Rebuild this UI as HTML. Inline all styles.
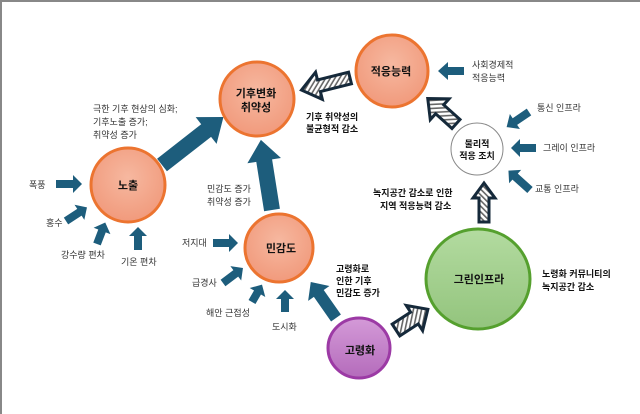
<!DOCTYPE html>
<html><head><meta charset="utf-8"><style>
html,body{margin:0;padding:0;background:#fff;}
svg{display:block;}
text{font-family:"Liberation Sans","Noto Sans CJK KR",sans-serif;font-size:9px;fill:#333;}
.b{font-weight:bold;fill:#111;}
.c{font-weight:bold;font-size:11px;fill:#111;text-anchor:middle;}
</style></head><body>
<svg width="640" height="414" viewBox="0 0 640 414">
<defs>
<pattern id="h" width="4" height="4" patternUnits="userSpaceOnUse" patternTransform="rotate(45)">
<rect width="4" height="4" fill="#fff"/><rect width="1.6" height="4" fill="#666"/></pattern>
<radialGradient id="og" cx="50%" cy="40%" r="60%"><stop offset="0" stop-color="#f6b8a0"/><stop offset="1" stop-color="#f19a7c"/></radialGradient>
<linearGradient id="gg" x1="0" y1="0" x2="0" y2="1"><stop offset="0" stop-color="#b3dba0"/><stop offset="1" stop-color="#93c47d"/></linearGradient>
<linearGradient id="pg" x1="0" y1="0" x2="0" y2="1"><stop offset="0" stop-color="#d49ad8"/><stop offset="1" stop-color="#b46bbb"/></linearGradient>
</defs>
<rect x="0" y="0" width="640" height="414" fill="#fff"/>
<line x1="0" y1="1" x2="640" y2="1" stroke="#888" stroke-width="2"/>
<line x1="1" y1="0" x2="1" y2="414" stroke="#888" stroke-width="2"/>

<g fill="#1d5d7c">
<polygon transform="translate(162,165) rotate(-38)" points="0,-8 56,-8 56,-17 78,0 56,17 56,8 0,8"/>
<polygon transform="translate(272,210) rotate(-99)" points="0,-8 50,-8 50,-17 71,0 50,17 50,8 0,8"/>
<polygon transform="translate(336,318) rotate(-125)" points="0,-6 30,-6 30,-13 44,0 30,13 30,6 0,6"/>
<polygon transform="translate(464,71) rotate(180)" points="0,-4 16,-4 16,-9 26,0 16,9 16,4 0,4"/>
<polygon transform="translate(529,112) rotate(146)" points="0,-4 17,-4 17,-9 27,0 17,9 17,4 0,4"/>
<polygon transform="translate(536,148) rotate(180)" points="0,-4 16,-4 16,-9 25,0 16,9 16,4 0,4"/>
<polygon transform="translate(530,190) rotate(-138)" points="0,-4 20,-4 20,-9 29,0 20,9 20,4 0,4"/>
<polygon transform="translate(56,184) rotate(0)" points="0,-4 17,-4 17,-9 26,0 17,9 17,4 0,4"/>
<polygon transform="translate(66,221) rotate(-33)" points="0,-4 16,-4 16,-9 25,0 16,9 16,4 0,4"/>
<polygon transform="translate(97,244) rotate(-69)" points="0,-4 14,-4 14,-9 23,0 14,9 14,4 0,4"/>
<polygon transform="translate(138,250) rotate(-90)" points="0,-4 14,-4 14,-9 23,0 14,9 14,4 0,4"/>
<polygon transform="translate(213,243) rotate(0)" points="0,-4 16,-4 16,-9 25,0 16,9 16,4 0,4"/>
<polygon transform="translate(223,283) rotate(-37)" points="0,-4 16,-4 16,-9 25,0 16,9 16,4 0,4"/>
<polygon transform="translate(252,302) rotate(-60)" points="0,-4 11,-4 11,-9 20,0 11,9 11,4 0,4"/>
<polygon transform="translate(285,312) rotate(-90)" points="0,-4 13,-4 13,-9 22,0 13,9 13,4 0,4"/>
</g>

<g fill="url(#h)" stroke="#15293a" stroke-width="3" stroke-linejoin="miter">
<polygon transform="translate(350,78) rotate(166)" points="0,-6 32,-6 32,-14 50,0 32,14 32,6 0,6"/>
<polygon transform="translate(456,124) rotate(-138)" points="0,-6 22,-6 22,-14 38,0 22,14 22,6 0,6"/>
<polygon transform="translate(484,222) rotate(-90)" points="0,-5 24,-5 24,-11 39,0 24,11 24,5 0,5"/>
<polygon transform="translate(396,330) rotate(-33)" points="0,-7 22,-7 22,-15 38,0 22,15 22,7 0,7"/>
</g>

<circle cx="257" cy="99" r="37" fill="url(#og)" stroke="#ec7430" stroke-width="3"/>
<circle cx="392" cy="71" r="36" fill="url(#og)" stroke="#ec7430" stroke-width="3"/>
<circle cx="128" cy="185" r="37" fill="url(#og)" stroke="#ec7430" stroke-width="3"/>
<circle cx="279" cy="248" r="34" fill="url(#og)" stroke="#ec7430" stroke-width="3"/>
<circle cx="477" cy="149" r="26" fill="#fff" stroke="#888" stroke-width="1"/>
<ellipse cx="478" cy="279" rx="52" ry="50" fill="url(#gg)" stroke="#55a02e" stroke-width="3"/>
<ellipse cx="359" cy="348" rx="31" ry="30" fill="url(#pg)" stroke="#9c3aa5" stroke-width="3"/>

<text class="c" x="256" y="97">기후변화</text>
<text class="c" x="256" y="111">취약성</text>
<text class="c" x="391" y="75">적응능력</text>
<text class="c" x="128" y="189">노출</text>
<text class="c" x="281" y="252">민감도</text>
<text class="c" x="477" y="147" style="font-size:9px">물리적</text>
<text class="c" x="477" y="159" style="font-size:9px">적응 조치</text>
<text class="c" x="479" y="283">그린인프라</text>
<text class="c" x="360" y="354">고령화</text>

<text x="93" y="112">극한 기후 현상의 심화;</text>
<text x="93" y="125">기후노출 증가;</text>
<text x="93" y="138">취약성 증가</text>
<text class="b" x="306" y="120">기후 취약성의</text>
<text class="b" x="306" y="132">불균형적 감소</text>
<text x="472" y="68">사회경제적</text>
<text x="472" y="81">적응능력</text>
<text x="537" y="111">통신 인프라</text>
<text x="543" y="151">그레이 인프라</text>
<text x="535" y="192">교통 인프라</text>
<text class="b" x="373" y="196">녹지공간 감소로 인한</text>
<text class="b" x="380" y="209">지역 적응능력 감소</text>
<text x="207" y="192">민감도 증가</text>
<text x="207" y="205">취약성 증가</text>
<text x="29" y="188">폭풍</text>
<text x="46" y="226">홍수</text>
<text x="61" y="258">강수량 편차</text>
<text x="121" y="265">기온 편차</text>
<text x="182" y="246">저지대</text>
<text x="192" y="286">급경사</text>
<text x="206" y="316">해안 근접성</text>
<text x="272" y="330">도시화</text>
<text class="b" x="336" y="272">고령화로</text>
<text class="b" x="336" y="284">인한 기후</text>
<text class="b" x="336" y="296">민감도 증가</text>
<text class="b" x="542" y="277">노령화 커뮤니티의</text>
<text class="b" x="542" y="290">녹지공간 감소</text>
</svg>
</body></html>
